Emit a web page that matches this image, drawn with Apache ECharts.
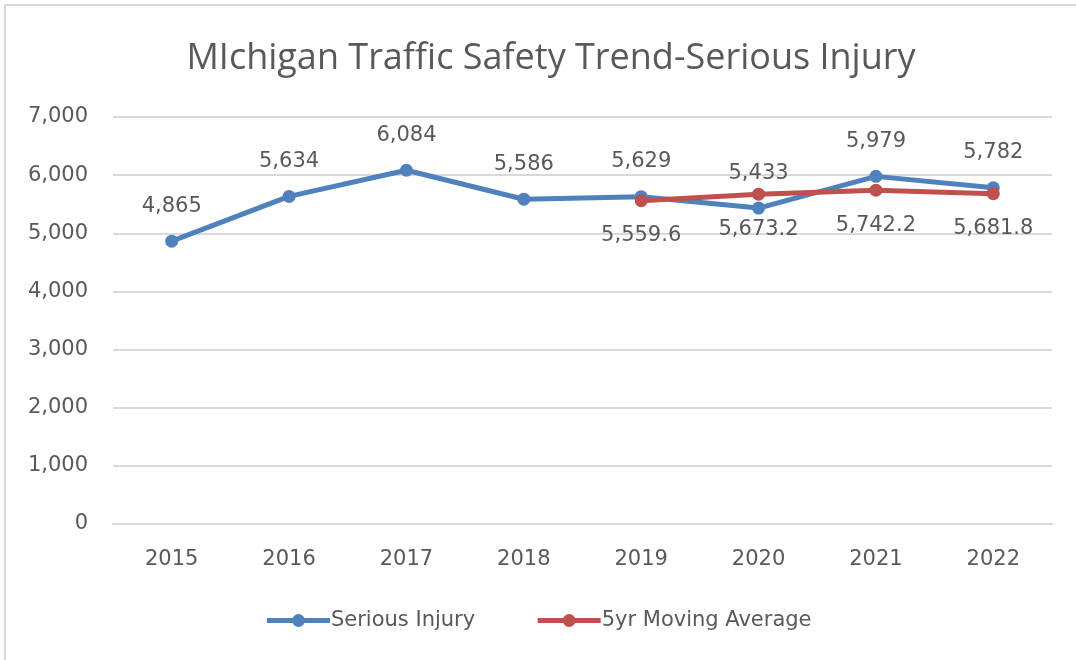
<!DOCTYPE html>
<html>
<head>
<meta charset="utf-8">
<script src="https://cdn.jsdelivr.net/npm/echarts@6/dist/echarts.min.js"></script>
<style>
  html, body { margin: 0; padding: 0; background: #fff; }
  #chart { width: 1076px; height: 660px; }
  /* light frame like the spreadsheet chart area */
  .frame {
    position: absolute; left: 4px; top: 4px; right: 0; bottom: 0;
    border-top: 2px solid #d9d9d9; border-left: 2px solid #d9d9d9;
    pointer-events: none;
  }
</style>
</head>
<body>
<div id="chart"></div>
<div class="frame"></div>
<script>
var years = ['2015', '2016', '2017', '2018', '2019', '2020', '2021', '2022'];
var seriousInjury = [4865, 5634, 6084, 5586, 5629, 5433, 5979, 5782];
var movingAvg = [null, null, null, null, 5559.6, 5673.2, 5742.2, 5681.8];

var TITLE_FONT = '"Open Sans", "Noto Sans", sans-serif';
var FONT = '"DejaVu Sans", sans-serif';
var TXT = '#595959';

function fmt(v, dec) {
  return Number(v).toLocaleString('en-US', { minimumFractionDigits: dec, maximumFractionDigits: dec });
}

var chart = echarts.init(document.getElementById('chart'));
chart.setOption({
  animation: false,
  title: {
    text: 'MIchigan Traffic Safety Trend-Serious Injury',
    left: 546,
    textAlign: 'center',
    top: 36,
    textStyle: { fontFamily: TITLE_FONT, fontSize: 36, fontWeight: 'normal', color: TXT }
  },
  grid: { left: 113, right: 24, top: 117, bottom: 136 },
  xAxis: {
    type: 'category',
    data: years,
    axisLine: { lineStyle: { color: '#d9d9d9', width: 2 } },
    axisTick: { show: false },
    axisLabel: { fontFamily: FONT, fontSize: 21, color: TXT, margin: 25 }
  },
  yAxis: {
    type: 'value',
    min: 0,
    max: 7000,
    interval: 1000,
    axisLine: { show: false },
    axisTick: { show: false },
    splitLine: { lineStyle: { color: '#d9d9d9', width: 2 } },
    axisLabel: {
      fontFamily: FONT, fontSize: 21, color: TXT, margin: 25,
      formatter: function (v) { return fmt(v, 0); }
    }
  },
  legend: {
    bottom: 24,
    left: 'center',
    itemWidth: 63,
    itemHeight: 16,
    itemGap: 60,
    lineStyle: { width: 5 },
    textStyle: { fontFamily: FONT, fontSize: 21, color: TXT, padding: [0, 0, 0, -4] }
  },
  series: [
    {
      name: 'Serious Injury',
      type: 'line',
      data: seriousInjury,
      symbol: 'circle',
      symbolSize: 13,
      color: '#4f81bd',
      lineStyle: { width: 5, color: '#4f81bd' },
      label: {
        show: true, position: 'top', distance: 18,
        fontFamily: FONT, fontSize: 21, color: TXT,
        formatter: function (p) { return fmt(p.value, 0); }
      }
    },
    {
      name: '5yr Moving Average',
      type: 'line',
      data: movingAvg,
      symbol: 'circle',
      symbolSize: 13,
      color: '#c0504d',
      lineStyle: { width: 5, color: '#c0504d' },
      label: {
        show: true, position: 'bottom', distance: 18,
        fontFamily: FONT, fontSize: 21, color: TXT,
        formatter: function (p) { return fmt(p.value, 1); }
      }
    }
  ]
});
</script>
</body>
</html>
